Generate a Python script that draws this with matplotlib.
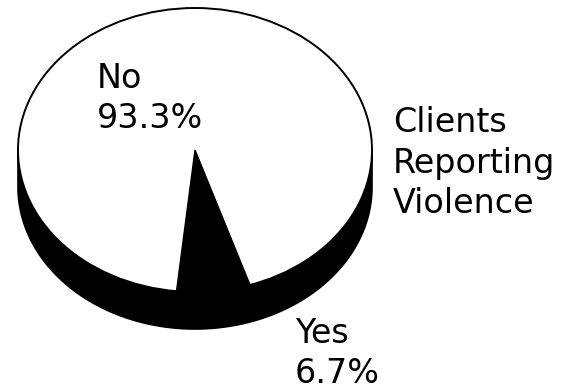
import matplotlib
matplotlib.use("Agg")
import matplotlib.pyplot as plt
import numpy as np
from matplotlib.patches import Ellipse, Polygon

# --- Data ---
labels = ['No', 'Yes']
percents = [93.3, 6.7]
colors = ['white', 'black']
title_text = 'Clients\nReporting\nViolence'

# --- Geometry of the 3D pie (pixel space, y down) ---
cx, cy = 195, 150
rx, ry = 177, 142
depth = 37
yes_start = -96.0  # degrees, counterclockwise from +x

fig = plt.figure(figsize=(5.75, 3.91), dpi=100)
ax = fig.add_axes([0, 0, 1, 1])
ax.set_xlim(0, 575)
ax.set_ylim(391, 0)
ax.axis('off')

# side wall (all black)
t = np.linspace(0, np.pi, 200)
top_x = cx + rx * np.cos(t)
top_y = cy + ry * np.sin(t)
side = np.column_stack([np.r_[top_x, top_x[::-1]],
                        np.r_[top_y, top_y[::-1] + depth]])
ax.add_patch(Polygon(side, closed=True, facecolor='black', edgecolor='black', lw=1.2, zorder=1))

# top face
ax.add_patch(Ellipse((cx, cy), 2 * rx, 2 * ry, facecolor='white', edgecolor='black', lw=1.4, zorder=2))

# slices on the top face (only the dark one needs a fill)
start = yes_start
for lab, p, col in zip(labels[::-1], percents[::-1], colors[::-1]):
    span = 360 * p / 100
    a = np.radians(np.linspace(start, start + span, 60))
    pts = np.column_stack([np.r_[cx, cx + rx * np.cos(a)],
                           np.r_[cy, cy - ry * np.sin(a)]])
    if col != 'white':
        ax.add_patch(Polygon(pts, closed=True, facecolor=col, edgecolor='black', lw=1.0, zorder=3))
    start += span

# labels (y = baseline of the last line)
fs = 24
ls = 1.28
ax.text(97, 128, f'{labels[0]}\n{percents[0]:.1f}%', fontsize=fs, ha='left', va='baseline',
        linespacing=ls, zorder=4)
ax.text(295, 383, f'{labels[1]}\n{percents[1]:.1f}%', fontsize=fs, ha='left', va='baseline',
        linespacing=ls, zorder=4)
ax.text(393, 213, title_text, fontsize=fs, ha='left', va='baseline', linespacing=ls, zorder=4)

fig.savefig('out.png', dpi=100, facecolor='white')
